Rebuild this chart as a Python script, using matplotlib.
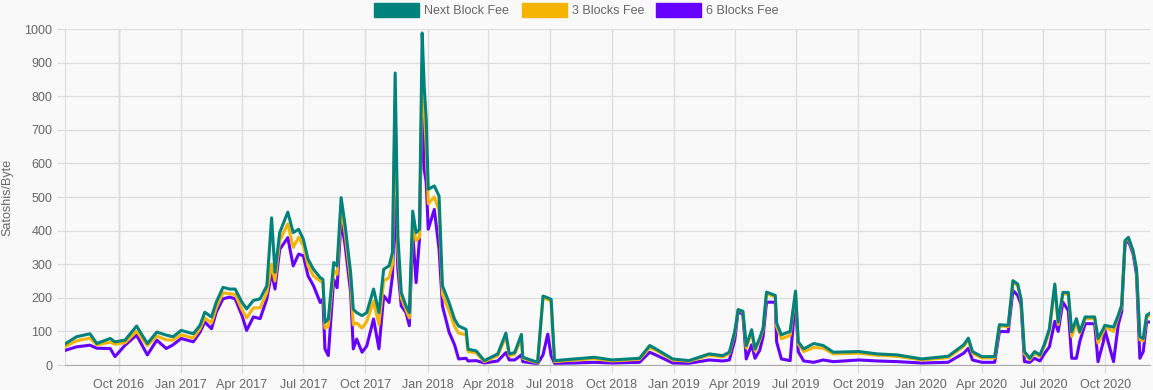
import numpy as np
import pandas as pd
import matplotlib
matplotlib.use("Agg")
import matplotlib.pyplot as plt
import matplotlib.dates as mdates
from matplotlib.patches import Patch

plt.rcParams['font.family'] = ['Liberation Sans', 'DejaVu Sans']

# values (satoshis per byte)
dates = [
    "2016-07-14", "2016-07-30", "2016-08-19", "2016-08-29", "2016-09-18", "2016-09-25",
    "2016-10-10", "2016-10-27", "2016-11-12", "2016-11-26", "2016-12-10", "2016-12-20",
    "2017-01-01", "2017-01-19", "2017-01-29", "2017-02-05", "2017-02-15", "2017-02-22",
    "2017-03-04", "2017-03-14", "2017-03-22", "2017-04-01", "2017-04-08", "2017-04-18",
    "2017-04-28", "2017-05-08", "2017-05-15", "2017-05-20", "2017-05-27", "2017-06-08",
    "2017-06-16", "2017-06-24", "2017-07-01", "2017-07-08", "2017-07-16", "2017-07-26",
    "2017-07-30", "2017-08-02", "2017-08-07", "2017-08-15", "2017-08-20", "2017-08-26",
    "2017-09-01", "2017-09-09", "2017-09-13", "2017-09-18", "2017-09-26", "2017-10-03",
    "2017-10-13", "2017-10-21", "2017-10-28", "2017-11-05", "2017-11-10", "2017-11-14",
    "2017-11-18", "2017-11-23", "2017-11-30", "2017-12-05", "2017-12-10", "2017-12-15",
    "2017-12-20", "2017-12-24", "2017-12-27", "2017-12-30", "2018-01-02", "2018-01-11",
    "2018-01-18", "2018-01-23", "2018-02-02", "2018-02-10", "2018-02-16", "2018-02-27",
    "2018-03-02", "2018-03-14", "2018-03-26", "2018-04-15", "2018-04-27", "2018-05-02",
    "2018-05-10", "2018-05-20", "2018-05-22", "2018-06-13", "2018-06-21", "2018-06-28",
    "2018-07-03", "2018-07-08", "2018-08-07", "2018-09-05", "2018-10-01", "2018-11-11",
    "2018-11-26", "2018-12-05", "2018-12-30", "2019-01-23", "2019-02-22", "2019-03-14",
    "2019-03-24", "2019-04-01", "2019-04-06", "2019-04-13", "2019-04-18", "2019-04-26",
    "2019-05-01", "2019-05-08", "2019-05-13", "2019-05-18", "2019-05-31", "2019-06-02",
    "2019-06-09", "2019-06-22", "2019-06-30", "2019-07-04", "2019-07-12", "2019-07-27",
    "2019-08-10", "2019-08-25", "2019-10-02", "2019-10-29", "2019-11-28", "2020-01-03",
    "2020-02-11", "2020-03-05", "2020-03-12", "2020-03-18", "2020-04-01", "2020-04-20",
    "2020-04-27", "2020-05-10", "2020-05-17", "2020-05-24", "2020-05-29", "2020-06-03",
    "2020-06-11", "2020-06-18", "2020-06-26", "2020-07-03", "2020-07-10", "2020-07-18",
    "2020-07-23", "2020-07-30", "2020-08-07", "2020-08-12", "2020-08-19", "2020-08-24",
    "2020-09-01", "2020-09-15", "2020-09-20", "2020-09-28", "2020-09-30", "2020-10-13",
    "2020-10-20", "2020-10-25", "2020-10-30", "2020-11-04", "2020-11-11", "2020-11-16",
    "2020-11-21", "2020-11-26", "2020-12-01", "2020-12-05",
]

next_block = [
    64, 84, 93, 64, 79, 69,
    74, 116, 64, 98, 89, 84,
    103, 93, 118, 157, 143, 187,
    231, 226, 226, 187, 167, 192,
    197, 236, 438, 276, 394, 455,
    394, 404, 374, 315, 285, 260,
    255, 127, 137, 305, 295, 498,
    414, 275, 166, 156, 147, 156,
    226, 156, 285, 295, 335, 869,
    384, 216, 176, 156, 458, 394,
    404, 988, 830, 731, 523, 533,
    503, 236, 185, 136, 116, 106,
    47, 42, 13, 33, 95, 33,
    37, 91, 23, 8, 205, 200,
    195, 13, 18, 23, 15, 20,
    58, 48, 18, 13, 33, 28,
    38, 100, 165, 160, 58, 105,
    48, 80, 110, 217, 207, 125,
    90, 100, 220, 69, 48, 64,
    58, 38, 40, 33, 30, 18,
    26, 60, 80, 40, 25, 25,
    120, 118, 251, 241, 197, 40,
    20, 40, 30, 64, 108, 241,
    128, 216, 216, 99, 138, 99,
    143, 143, 79, 108, 118, 113,
    148, 178, 370, 380, 340, 286,
    84, 79, 148, 153,
]

three_blocks = [
    56, 72, 80, 60, 68, 62,
    66, 100, 58, 86, 75, 74,
    90, 80, 108, 140, 125, 170,
    215, 212, 210, 165, 140, 170,
    170, 215, 300, 250, 370, 420,
    350, 380, 355, 295, 265, 250,
    245, 110, 115, 280, 270, 470,
    390, 250, 120, 125, 110, 130,
    190, 120, 250, 260, 300, 780,
    340, 200, 165, 140, 420, 370,
    380, 900, 760, 650, 480, 500,
    460, 210, 160, 115, 95, 90,
    40, 36, 10, 28, 85, 28,
    32, 80, 20, 6, 200, 195,
    190, 10, 15, 19, 12, 17,
    52, 44, 15, 11, 29, 24,
    34, 95, 164, 158, 50, 98,
    42, 74, 106, 212, 203, 115,
    78, 88, 217, 62, 40, 52,
    50, 33, 35, 29, 26, 15,
    22, 55, 75, 35, 21, 21,
    116, 114, 247, 236, 193, 33,
    16, 35, 26, 58, 100, 235,
    120, 212, 210, 85, 125, 95,
    138, 138, 65, 100, 114, 100,
    144, 174, 367, 377, 337, 283,
    75, 72, 142, 147,
]

six_blocks = [
    44, 54, 59, 50, 49, 25,
    59, 89, 30, 74, 49, 60,
    79, 69, 98, 128, 108, 157,
    197, 202, 197, 148, 103, 143,
    138, 197, 276, 226, 344, 379,
    295, 330, 325, 265, 236, 186,
    196, 48, 28, 255, 230, 434,
    354, 216, 48, 77, 38, 57,
    137, 48, 206, 186, 265, 500,
    285, 176, 156, 117, 394, 245,
    374, 820, 582, 543, 404, 463,
    345, 176, 97, 60, 18, 20,
    12, 13, 6, 12, 37, 15,
    15, 30, 10, 4, 30, 92,
    28, 5, 6, 8, 6, 8,
    38, 30, 6, 5, 15, 12,
    15, 75, 160, 150, 18, 60,
    20, 44, 85, 187, 187, 69,
    18, 13, 202, 40, 12, 8,
    15, 10, 15, 12, 10, 6,
    8, 35, 50, 15, 8, 8,
    100, 99, 222, 207, 180, 10,
    8, 20, 12, 35, 54, 130,
    100, 187, 162, 20, 20, 70,
    123, 123, 10, 70, 106, 10,
    120, 158, 360, 370, 330, 270,
    20, 40, 128, 128,
]

series_names = ["Next Block Fee", "3 Blocks Fee", "6 Blocks Fee"]
series_colors = ["#00827c", "#f4b400", "#6600ff"]

df = pd.DataFrame({
    "date": pd.to_datetime(dates),
    "next": next_block,
    "three": three_blocks,
    "six": six_blocks,
})

fig = plt.figure(figsize=(11.53, 3.9), dpi=100, facecolor="#f9f9f9")
ax = fig.add_axes([65 / 1153, 1 - 365 / 390, 1085 / 1153, 336 / 390])
ax.set_facecolor("#f9f9f9")

# first dataset drawn on top, like the original
ax.plot(df["date"], df["six"], color=series_colors[2], lw=2.2, zorder=3)
ax.plot(df["date"], df["three"], color=series_colors[1], lw=2.2, zorder=4)
ax.plot(df["date"], df["next"], color=series_colors[0], lw=2.2, zorder=5)

ax.set_xlim(pd.Timestamp("2016-07-13"), pd.Timestamp("2020-12-06"))
ax.set_ylim(0, 1000)
ax.set_yticks(np.arange(0, 1001, 100))

ax.xaxis.set_major_locator(mdates.MonthLocator(bymonth=[1, 4, 7, 10]))
ax.xaxis.set_major_formatter(mdates.DateFormatter("%b %Y"))

ax.grid(True, color="#dddddd", lw=0.9, zorder=0)
# darker first vertical gridline (zero line of the time scale)
ax.axvline(pd.Timestamp("2016-10-01"), color="#aaaaaa", lw=0.9, zorder=1)

for s in ["top", "right"]:
    ax.spines[s].set_visible(False)
ax.spines["left"].set_color("#dddddd")
ax.spines["bottom"].set_color("#aaaaaa")
ax.tick_params(axis="both", colors="#dddddd", labelcolor="#666666",
               labelsize=9, length=6, width=0.9)
ax.tick_params(axis="x", pad=4)
ax.tick_params(axis="y", pad=3)

ax.set_ylabel("Satoshis/Byte", color="#666666", fontsize=9, labelpad=8)

handles = [Patch(facecolor=c, edgecolor=c) for c in series_colors]
fig.legend(handles, series_names, loc="upper center", bbox_to_anchor=(0.5, 1.02),
           ncol=3, frameon=False, fontsize=9, labelcolor="#666666",
           handlelength=3.6, handleheight=1.3, handletextpad=0.4, columnspacing=1.0)

fig.savefig("out.png", dpi=100, facecolor=fig.get_facecolor())
